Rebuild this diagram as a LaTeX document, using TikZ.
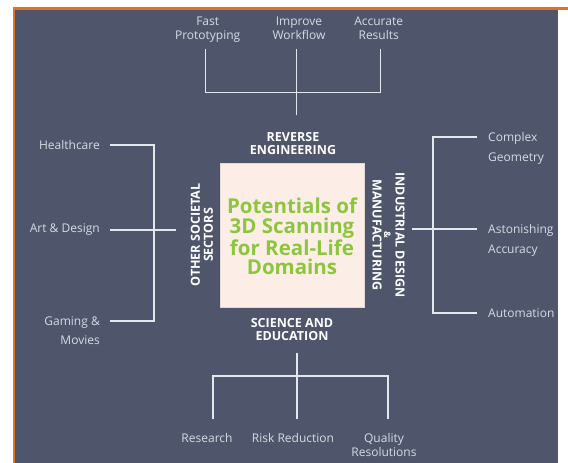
\documentclass[tikz,border=0pt]{standalone}
\usepackage{fontspec}
\newfontfamily\osans{Open Sans}
\definecolor{panel}{HTML}{4F566B}
\definecolor{frameor}{HTML}{E0702A}
\definecolor{linecol}{HTML}{E4E7EC}
\definecolor{labelcol}{HTML}{D6DBE3}
\definecolor{titlegreen}{HTML}{8CC63F}
\definecolor{boxfill}{HTML}{FCEEE7}
\tikzset{
  link/.style={draw=linecol, line width=1.3pt},
  lbl/.style={text=labelcol, inner sep=0pt,
    font=\osans\fontsize{12}{13.5}\selectfont},
  lblwide/.style={lbl, font=\osans\fontsize{12}{19.5}\selectfont},
  head/.style={text=white, inner sep=0pt, align=center,
    font=\osans\bfseries\fontsize{12.5}{13}\selectfont},
}
\begin{document}
\begin{tikzpicture}[x=1pt, y=-1pt]
  % canvas and framed panel
  \useasboundingbox (0,0) rectangle (568,463);
  \fill[white] (0,0) rectangle (568,463);
  \fill[panel] (14,8) rectangle (558,463);
  \draw[frameor, line width=2.4pt] (14,463) -- (14,8.5) -- (568,8.5);

  % central box with title
  \node[draw=boxfill!80!gray, line width=0.4pt, fill=boxfill,
        minimum width=144pt, minimum height=144pt, inner sep=0pt]
        (core) at (292,235) {};
  \node[text=titlegreen, align=center, inner sep=0pt,
        font=\osans\bfseries\fontsize{20.5}{19.7}\selectfont]
        (title) at (292,236.5) {Potentials of\\3D Scanning\\for Real-Life\\Domains};

  % domain headings around the box
  \node[head] (rev) at (293,144) {REVERSE\\ENGINEERING};
  \node[head] (sci) at (292,330) {SCIENCE AND\\EDUCATION};
  \node[head, rotate=90] (oth) at (202,235) {OTHER SOCIETAL\\SECTORS};
  \node[head, rotate=-90, font=\osans\bfseries\fontsize{12.5}{11.5}\selectfont]
        (ind) at (388.5,235) {INDUSTRIAL DESIGN\\{\fontsize{9}{9}\selectfont\&}\\MANUFACTURING};

  % top branch: reverse engineering
  \node[lbl, align=center, anchor=north] (fast) at (207.7,16.9) {Fast\\Prototyping};
  \node[lbl, align=center, anchor=north] (impr) at (299,16.9) {Improve\\Workflow};
  \node[lbl, align=center, anchor=north] (accr) at (378.7,16.9) {Accurate\\Results};
  \coordinate (t1) at (205.7,49);
  \coordinate (t2) at (296.7,49);
  \coordinate (t3) at (380.7,49);
  \coordinate (th) at (296.7,92.7);
  \coordinate (tb) at (296.7,115);
  \draw[link] (t1) -- (t1 |- th) -- (t3 |- th) -- (t3);
  \draw[link] (t2) -- (tb);

  % left branch: other societal sectors
  \node[lbl, anchor=east] (hc) at (100,145) {Healthcare};
  \node[lbl, anchor=east] (ad) at (100,230) {Art \& Design};
  \node[lblwide, align=right, anchor=north east] (gm) at (100,316.2) {Gaming \&\\Movies};
  \coordinate (lt) at (154,145);
  \coordinate (lb) at (154,321);
  \coordinate (lm) at (176,230);
  \coordinate (l1) at (110,145);
  \coordinate (l2) at (110,230);
  \coordinate (l3) at (110,321);
  \draw[link] (l1) -- (lt) -- (lb) -- (l3);
  \draw[link] (l2) -- (lm);

  % right branch: industrial design & manufacturing
  \node[lblwide, align=left, anchor=north west] (cg) at (488,132.2) {Complex\\Geometry};
  \node[lblwide, align=left, anchor=north west] (aa) at (488,224.2) {Astonishing\\Accuracy};
  \node[lbl, anchor=west] (au) at (488,313) {Automation};
  \coordinate (rt) at (433,137);
  \coordinate (rb) at (433,313);
  \coordinate (rm) at (412,229);
  \coordinate (r1) at (477,137);
  \coordinate (r2) at (477,229);
  \coordinate (r3) at (477,313);
  \draw[link] (r1) -- (rt) -- (rb) -- (r3);
  \draw[link] (rm) -- (r2);

  % bottom branch: science and education
  \node[lbl, anchor=north] (res) at (207,433.2) {Research};
  \node[lbl, anchor=north] (risk) at (293,433.2) {Risk Reduction};
  \node[lbl, align=center, anchor=north] (qual) at (384,433.2) {Quality\\Resolutions};
  \coordinate (bt) at (297,353);
  \coordinate (bb) at (297,419);
  \coordinate (bh) at (297,376);
  \coordinate (b1) at (213,419);
  \coordinate (b3) at (388,419);
  \draw[link] (bt) -- (bb);
  \draw[link] (b1) -- (b1 |- bh) -- (b3 |- bh) -- (b3);
\end{tikzpicture}
\end{document}
